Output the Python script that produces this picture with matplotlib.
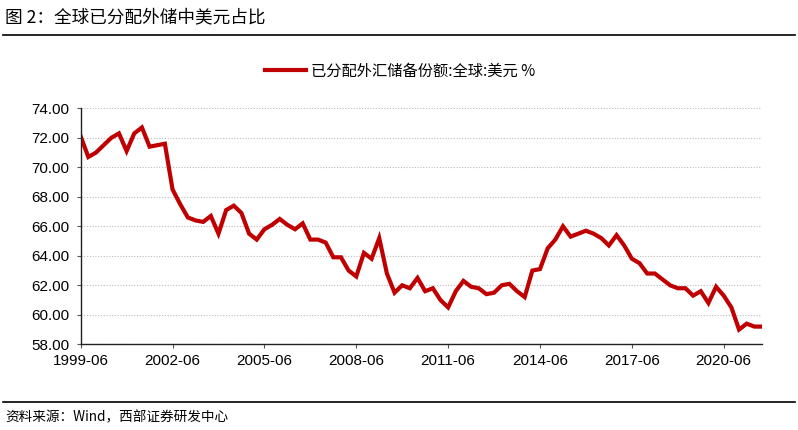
import matplotlib
matplotlib.use("Agg")
import matplotlib.pyplot as plt
import numpy as np
import pandas as pd

CJK = ["Noto Sans CJK SC", "DejaVu Sans"]
plt.rcParams["font.family"] = ["Liberation Sans", "DejaVu Sans"]

title = "图 2：全球已分配外储中美元占比"
source = "资料来源：Wind，西部证券研发中心"
series_name = "已分配外汇储备份额:全球:美元 %"

# quarterly, 1999Q2 .. 2021Q3
usd_share = [
    72.1, 70.7, 71.0, 71.5, 72.0, 72.3, 71.1, 72.3, 72.7, 71.4,
    71.5, 71.6, 68.5, 67.5, 66.6, 66.4, 66.3, 66.7, 65.5, 67.1,
    67.4, 66.9, 65.5, 65.1, 65.8, 66.1, 66.5, 66.1, 65.8, 66.2,
    65.1, 65.1, 64.9, 63.9, 63.9, 63.0, 62.6, 64.2, 63.8, 65.2,
    62.8, 61.5, 62.0, 61.8, 62.5, 61.6, 61.8, 61.0, 60.5, 61.6,
    62.3, 61.9, 61.8, 61.4, 61.5, 62.0, 62.1, 61.6, 61.2, 63.0,
    63.1, 64.5, 65.1, 66.0, 65.3, 65.5, 65.7, 65.5, 65.2, 64.7,
    65.4, 64.7, 63.8, 63.5, 62.8, 62.8, 62.4, 62.0, 61.8, 61.8,
    61.3, 61.6, 60.8, 61.9, 61.3, 60.5, 59.0, 59.4, 59.2, 59.2,
]
tick_labels = ["1999-06", "2002-06", "2005-06", "2008-06",
               "2011-06", "2014-06", "2017-06", "2020-06"]
y_ticks = [58, 60, 62, 64, 66, 68, 70, 72, 74]

dates = pd.period_range("1999Q2", periods=len(usd_share), freq="Q").strftime("%Y-%m")
x = np.arange(len(usd_share))
tick_pos = [list(dates).index(lbl) for lbl in tick_labels]

fig = plt.figure(figsize=(7.98, 4.30), dpi=100)
ax = fig.add_axes([0.1011, 0.1993, 0.8538, 0.5488])

ax.plot(x, usd_share, color="#C00000", lw=3.0, solid_joinstyle="miter",
        label=series_name)

ax.set_xlim(x[0], x[-1])
ax.set_ylim(58, 74)
ax.set_yticks(y_ticks, [f"{v:.2f}" for v in y_ticks])
ax.set_xticks(tick_pos, tick_labels)
ax.tick_params(axis="both", labelsize=11, length=3, width=0.8,
               color="#555555", direction="out")
ax.tick_params(axis="y", pad=5)
ax.tick_params(axis="x", pad=4)

for spine in ("top", "right"):
    ax.spines[spine].set_visible(False)
for spine in ("left", "bottom"):
    ax.spines[spine].set_color("#222222")
    ax.spines[spine].set_linewidth(1.0)

ax.grid(axis="y", color="#BBBBBB", linestyle=(0, (1, 1.5)), linewidth=0.8)
ax.set_axisbelow(True)

leg = ax.legend(loc="center", bbox_to_anchor=(400 / 798, 1 - 71 / 430),
                bbox_transform=fig.transFigure, frameon=False,
                handlelength=2.7, handletextpad=0.35,
                prop={"family": CJK, "size": 11})

fig.text(5 / 798, 1 - 17 / 430, title, fontsize=12.7, family=CJK,
         ha="left", va="center")
fig.add_artist(plt.Line2D([3 / 798, 795 / 798], [1 - 34.5 / 430] * 2,
                          color="black", lw=1.2, transform=fig.transFigure))
fig.add_artist(plt.Line2D([3 / 798, 795 / 798], [1 - 402 / 430] * 2,
                          color="black", lw=1.2, transform=fig.transFigure))
fig.text(5 / 798, 1 - 417 / 430, source, fontsize=9.8, family=CJK,
         ha="left", va="center")

fig.savefig("out.png", dpi=100)
